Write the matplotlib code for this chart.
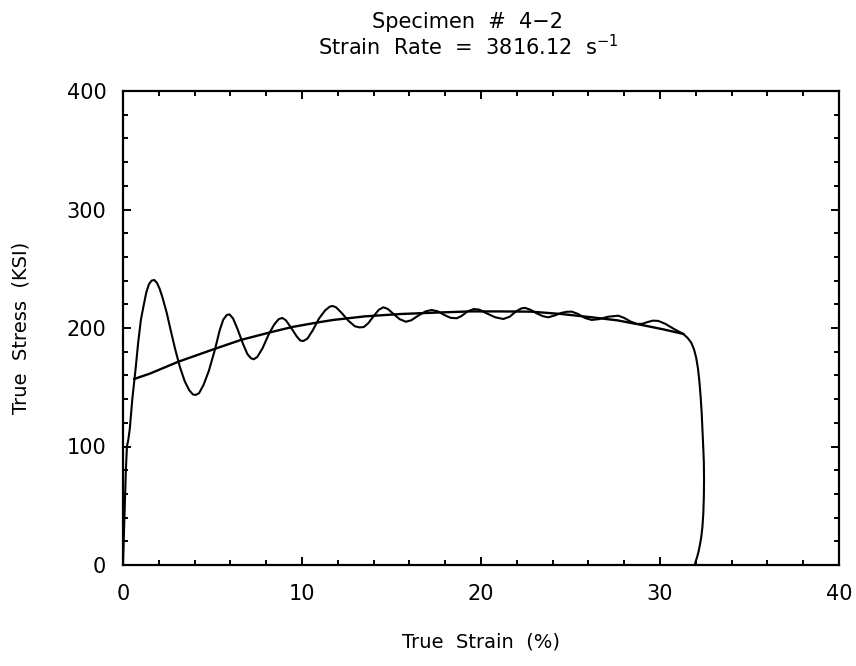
import matplotlib
matplotlib.use("Agg")
import matplotlib.pyplot as plt
from matplotlib.ticker import MultipleLocator

# Oscillating measured curve (true strain %, true stress KSI)
osc_strain = [0.0, 0.04, 0.1, 0.16, 0.22, 0.3, 0.38, 0.45, 0.52, 0.7, 0.85, 1.0, 1.14, 1.3,
              1.45, 1.6, 1.75, 1.9, 2.05, 2.2, 2.44, 2.65, 2.9, 3.18, 3.45, 3.7, 3.9, 4.05,
              4.25, 4.5, 4.8, 5.14, 5.4, 5.6, 5.8, 5.95, 6.15, 6.4, 6.72, 6.95, 7.15, 7.3,
              7.5, 7.8, 8.15, 8.45, 8.7, 8.9, 9.1, 9.4, 9.7, 9.9, 10.07, 10.3, 10.6, 10.95,
              11.3, 11.55, 11.7, 11.9, 12.2, 12.6, 12.95, 13.2, 13.45, 13.7, 14.0, 14.3,
              14.55, 14.8, 15.1, 15.45, 15.8, 16.1, 16.5, 16.9, 17.24, 17.6, 17.95, 18.3,
              18.64, 18.9, 19.25, 19.6, 19.9, 20.3, 20.8, 21.25, 21.6, 21.95, 22.25, 22.45,
              22.75, 23.1, 23.45, 23.76, 24.1, 24.5, 24.8, 25.07, 25.4, 25.8, 26.18, 26.6,
              27.1, 27.67, 28.0, 28.35, 28.7, 29.0, 29.3, 29.6, 29.9, 30.3, 30.8, 31.3,
              31.55, 31.75, 31.9, 32.02, 32.12, 32.2, 32.27, 32.33, 32.38, 32.42, 32.45,
              32.46, 32.45, 32.42, 32.37, 32.3, 32.23, 32.15, 32.06, 31.99, 31.95]
osc_stress = [0, 20, 50, 80, 100, 106, 115, 128, 140, 165, 188, 207, 218, 230,
              237, 240, 240.5, 238, 233, 226, 213, 199, 183, 167, 155, 147.5, 144, 143.5,
              145, 152, 164, 182, 198, 207, 211, 211.5, 208, 199, 186, 178, 174.5, 173.6,
              175.5, 183, 195, 203, 207.5, 208.5, 206.5, 200, 193, 189.5, 189, 191, 198, 208,
              215, 218, 218.6, 217.5, 213, 206, 201.5, 200.5, 200.8, 204, 210, 215.5,
              217.5, 216, 212, 207.5, 205.3, 206.5, 210.5, 214, 215.2, 214, 211, 208.6,
              208.2, 210, 214, 216, 215.5, 212.5, 209, 207.6, 209.5, 214, 216.5, 217,
              215.5, 212.5, 210, 209, 210.5, 212.8, 213.7, 213.8, 212, 208.5, 206.8, 207.5,
              209.5, 210.4, 208.5, 205.5, 203.5, 203.5, 205, 206.2, 206, 203.5, 199, 195,
              191.5, 187.5, 182, 175, 166, 155, 142, 128, 112, 98, 86,
              72, 58, 43.6, 32, 23, 17, 11, 6, 3, 0]

# Smooth fitted curve
fit_strain = [0.63, 1.5, 3.1, 5.05, 6.6, 8.4, 9.5, 11.0, 11.75, 13.5, 15.5, 17.5, 19.4,
              21.0, 22.8, 24.5, 26.2, 27.6, 29.0, 30.2, 31.3]
fit_stress = [157, 161.5, 171.6, 182, 190, 197, 201, 205, 206.8, 209.8, 211.8, 213, 214,
              214, 213.8, 211.8, 209, 206.5, 202.5, 198.8, 195]

x_ticks = [0, 10, 20, 30, 40]
y_ticks = [0, 100, 200, 300, 400]

plt.rcParams['font.family'] = ['DejaVu Sans']

fig = plt.figure(figsize=(8.56, 6.66), dpi=100)
ax = fig.add_axes([123/856, 1 - 565/666, (839-123)/856, (565-91)/666])

ax.plot(osc_strain, osc_stress, color='black', lw=1.5, solid_joinstyle='round')
ax.plot(fit_strain, fit_stress, color='black', lw=1.7, solid_joinstyle='round')

ax.set_xlim(0, 40)
ax.set_ylim(0, 400)
ax.set_xticks(x_ticks)
ax.set_yticks(y_ticks)
ax.xaxis.set_minor_locator(MultipleLocator(2))
ax.yaxis.set_minor_locator(MultipleLocator(20))
ax.tick_params(which='both', direction='in', top=True, right=True, width=1.4, labelsize=15)
ax.tick_params(which='major', length=6)
ax.tick_params(which='minor', length=3.5)
ax.tick_params(axis='x', which='major', pad=14)
ax.tick_params(axis='y', which='major', pad=12)
for s in ax.spines.values():
    s.set_linewidth(1.6)

ax.set_xlabel('True  Strain  (%)', fontsize=14, labelpad=20)
ax.set_ylabel('True  Stress  (KSI)', fontsize=14, labelpad=26)

fig.text(468/856, 1 - 22/666, 'Specimen  #  4\u22122', ha='center', va='center', fontsize=15)
fig.text(468/856, 1 - 47/666, 'Strain  Rate  =  3816.12  s$^{-1}$', ha='center', va='center', fontsize=15)

fig.savefig('out.png', dpi=100)
